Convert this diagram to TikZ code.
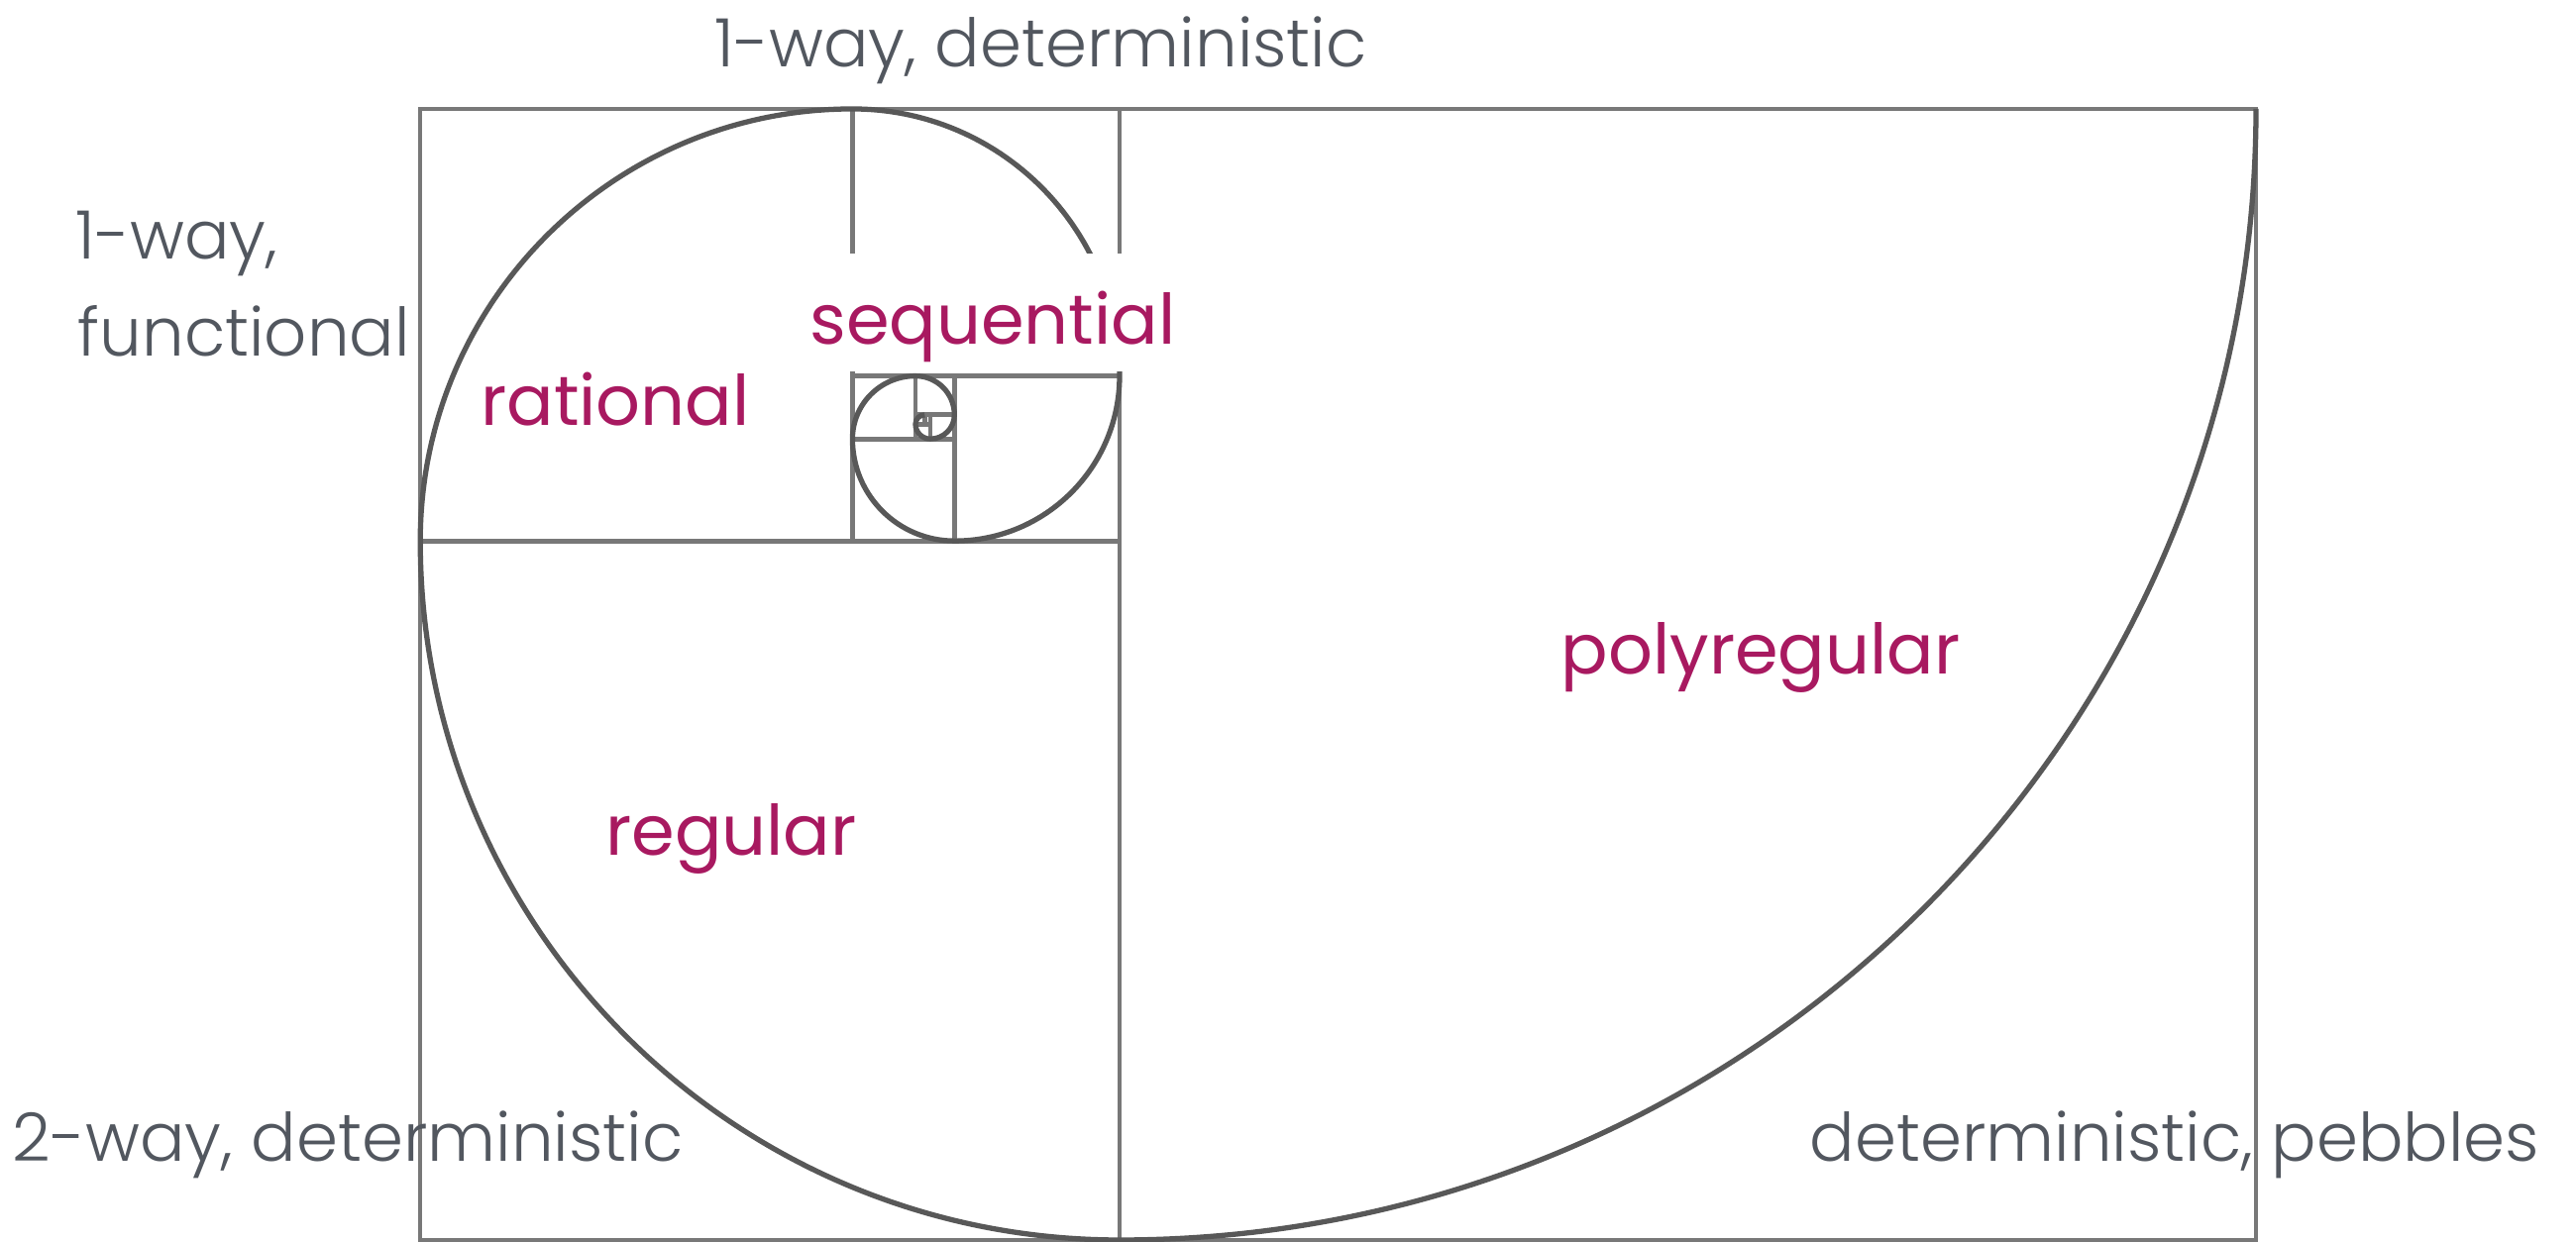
\documentclass[tikz,border=0pt]{standalone}
\usepackage{fontspec}
\setmainfont{Poppins}
\newfontfamily\thinfont{Poppins}[UprightFont=* Light]
\usepackage{xcolor}
\usepackage{tikz}
\usetikzlibrary{positioning}
\definecolor{gridgray}{RGB}{120, 120, 120}
\definecolor{spiralgray}{RGB}{88, 88, 88}
\definecolor{labelgray}{RGB}{82, 87, 95}
\definecolor{classmagenta}{RGB}{168, 25, 96}

\begin{document}
\begin{tikzpicture}[
    gridline/.style={draw=gridgray, line width=1.4pt},
    spiral/.style={draw=spiralgray, line width=1.5pt},
    waylabel/.style={text=labelgray, inner sep=0pt, font=\thinfont\fontsize{19.2}{23}\selectfont},
    classlabel/.style={text=classmagenta, inner sep=0pt, font=\fontsize{20}{24}\selectfont}]
    \useasboundingbox (0,0) rectangle (26,12.54);

    % golden rectangle and its squares
    \draw[gridline] (4.24,0.02) rectangle (22.77,11.44);
    \draw[gridline] (11.30,0.02) -- (11.30,11.44);
    \draw[gridline] (4.24,7.078) -- (11.30,7.078);
    \draw[gridline] (8.604,7.078) -- (8.604,11.44);
    \draw[gridline] (8.604,8.744) -- (11.30,8.744);
    \draw[gridline] (9.634,7.078) -- (9.634,8.744);
    \draw[gridline] (8.604,8.108) -- (9.634,8.108);
    \draw[gridline] (9.24,8.108) -- (9.24,8.744);
    \draw[gridline] (9.24,8.351) -- (9.634,8.351);
    \draw[gridline] (9.39,8.108) -- (9.39,8.351);
    \draw[gridline] (9.24,8.258) -- (9.39,8.258);
    \draw[gridline] (9.333,8.258) -- (9.333,8.351);

    % spiral
    \draw[spiral] (22.77,11.44)
        arc[start angle=0, end angle=-90, x radius=11.47, y radius=11.42]
        arc[start angle=270, end angle=180, radius=7.058]
        arc[start angle=180, end angle=90, radius=4.362]
        arc[start angle=90, end angle=0, radius=2.696]
        arc[start angle=0, end angle=-90, radius=1.666]
        arc[start angle=270, end angle=180, radius=1.030]
        arc[start angle=180, end angle=90, radius=0.636]
        arc[start angle=90, end angle=0, radius=0.393]
        arc[start angle=0, end angle=-90, radius=0.243]
        arc[start angle=270, end angle=180, radius=0.150]
        arc[start angle=180, end angle=90, radius=0.093];

    % white patch behind sequential
    \fill[white] (8.10,8.79) rectangle (11.45,9.98);

    % machine models
    \node[waylabel, anchor=base west] (top) at (7.21,11.86) {1-way, deterministic};
    \node[waylabel, anchor=base west] (left1) at (0.76,9.92) {1-way,};
    \node[waylabel, anchor=base west] (left2) at (0.78,8.94) {functional};
    \node[waylabel, anchor=base west] (botleft) at (0.12,0.81) {2-way, deterministic};
    \node[waylabel, anchor=base east] (botright) at (25.64,0.81) {deterministic, pebbles};

    % transducer classes
    \node[classlabel, anchor=base] (seq) at (10.02,9.06) {sequential};
    \node[classlabel, anchor=base] (rat) at (6.21,8.24) {rational};
    \node[classlabel, anchor=base] (reg) at (7.38,3.90) {regular};
    \node[classlabel, anchor=base] (poly) at (17.77,5.73) {polyregular};
\end{tikzpicture}
\end{document}
